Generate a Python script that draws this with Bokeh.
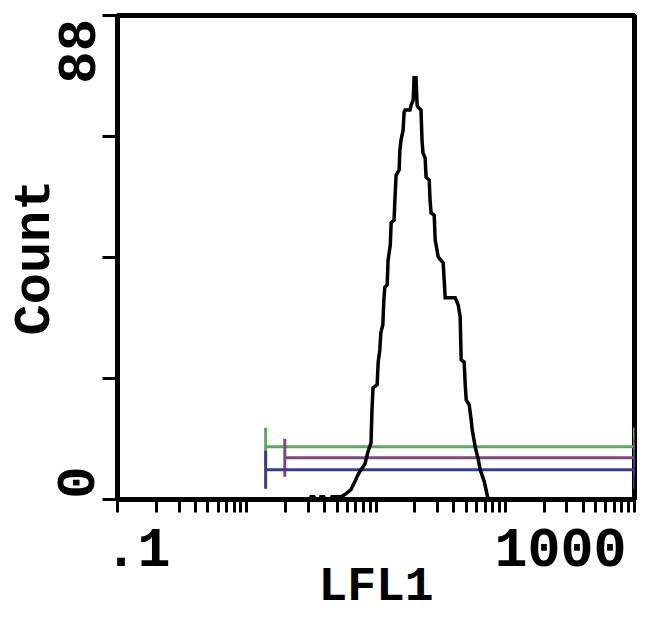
import math
from bokeh.plotting import figure
from bokeh.models import Range1d, FixedTicker, LogAxis, LinearAxis
from bokeh.embed import file_html
from bokeh.resources import INLINE

# Histogram outline (LFL1 value, count)
hist_lfl1 = [2.49, 3.08, 3.14, 3.30, 3.37, 3.68, 3.74, 3.94, 4.02, 4.48, 4.56, 5.35,
             5.75, 6.40, 6.88, 7.25, 7.65, 8.22, 8.67, 9.15, 9.31, 9.48, 10.2, 10.4,
             10.7, 10.9, 11.3, 11.5, 11.7, 12.2, 12.4, 12.9, 13.1, 13.8, 14.0, 14.3,
             15.1, 15.3, 15.6, 16.2, 16.5, 16.8, 18.3, 18.7, 19.4, 19.7, 20.4, 20.8,
             21.2, 22.3, 22.7, 23.1, 24.0, 24.4, 25.8, 26.2, 26.7, 28.2, 28.7, 30.3,
             33.1, 33.7, 34.3, 41.0, 43.2, 44.8, 45.6, 48.1, 49.0, 49.9, 52.6, 54.5,
             55.5, 58.5, 61.8, 64.0, 68.7, 73.8]
hist_count = [0, 0, 0.5, 0.5, 0, 0, 0.5, 0.5, 0, 0, 0.5, 0.5,
              0.9, 1.8, 3.3, 4.5, 5.4, 6.5, 8.7, 10.3, 16.3, 20.3, 20.9, 25.0,
              27.2, 30.3, 31.8, 36.3, 38.6, 39.0, 43.5, 46.3, 50.3, 50.8, 54.4, 59.0,
              59.9, 63.5, 65.3, 67.1, 70.4, 70.8, 70.8, 71.7, 72.6, 76.7, 76.7, 71.7,
              71.3, 70.8, 65.3, 63.0, 62.1, 58.6, 58.1, 54.4, 52.1, 51.7, 47.2, 44.1,
              43.0, 39.9, 36.7, 36.7, 35.4, 33.2, 25.4, 25.0, 20.9, 18.1, 17.2, 14.5,
              12.7, 9.6, 7.3, 5.4, 3.3, 0]

# Gate markers
gate_names = ["green", "purple", "blue"]
gate_start = [1.40, 1.97, 1.40]
gate_end = [1000, 1000, 1000]
gate_level = [9.6, 7.6, 5.4]
gate_colors = ["#5fa85f", "#7a4a7c", "#3c3c8c"]

x_major = [0.1, 1, 10, 100, 1000]
x_minor = [0.2, 0.3, 0.4, 0.5, 0.6, 0.7, 0.8, 0.9,
           2, 3, 4, 5, 6, 7, 8, 9,
           20, 30, 40, 50, 60, 70, 80, 90,
           200, 300, 400, 500, 600, 700, 800, 900]
y_ticks = [0, 22, 44, 66, 88]
x_tick_labels = [".1", "1000"]
x_label_anchor = [0.143, 267.6]     # labels sit inside the axis ends
y_tick_labels = ["0", "88"]
y_label_anchor = [3.1, 81.5]
x_title = "LFL1"
y_title = "Count"

FONT = "Liberation Mono"

p = figure(width=640, height=616, x_axis_type="log",
           x_range=Range1d(0.1, 1000), y_range=Range1d(0, 88),
           output_backend="svg", toolbar_location=None,
           min_border_left=117, min_border_top=15, min_border_right=6,
           min_border_bottom=116)
p.grid.visible = False
p.background_fill_color = "white"
p.border_fill_color = "white"
p.outline_line_color = "black"
p.outline_line_width = 5

for ax in (p.xaxis[0], p.yaxis[0]):
    ax.axis_line_width = 5
    ax.axis_line_color = "black"
    ax.major_tick_line_width = 3
    ax.minor_tick_line_width = 3
    ax.major_tick_line_color = "black"
    ax.minor_tick_line_color = "black"
    ax.major_tick_in = 0
    ax.minor_tick_in = 0
    ax.major_label_text_font_size = "2px"
    ax.major_label_text_color = None
    ax.major_label_standoff = 0

p.xaxis.ticker = FixedTicker(ticks=x_major, minor_ticks=x_minor)
p.xaxis.major_tick_out = 13
p.xaxis.minor_tick_out = 13
p.yaxis.ticker = FixedTicker(ticks=y_ticks)
p.yaxis.major_tick_out = 15
p.yaxis.minor_tick_line_color = None

text_style = dict(major_label_text_font=FONT, major_label_text_font_style="bold",
                  major_label_text_color="black",
                  axis_label_text_font=FONT, axis_label_text_font_style="bold",
                  axis_label_text_color="black",
                  axis_line_color=None, major_tick_line_color=None,
                  minor_tick_line_color=None, major_tick_out=0, major_tick_in=0,
                  minor_tick_out=0, minor_tick_in=0)

xb = LogAxis(ticker=FixedTicker(ticks=x_label_anchor),
             major_label_overrides=dict(zip(x_label_anchor, x_tick_labels)),
             major_label_text_font_size="55px",
             axis_label=x_title, axis_label_text_font_size="48px",
             major_label_standoff=16, axis_label_standoff=-9, **text_style)
p.add_layout(xb, "below")

yb = LinearAxis(ticker=FixedTicker(ticks=y_label_anchor),
                major_label_overrides=dict(zip(y_label_anchor, y_tick_labels)),
                major_label_orientation="vertical",
                major_label_text_font_size="54px",
                axis_label=y_title, axis_label_text_font_size="52px",
                major_label_standoff=8, axis_label_standoff=-9, **text_style)
p.add_layout(yb, "left")

# gates
for s, e, lv, c in zip(gate_start, gate_end, gate_level, gate_colors):
    p.line([s, e], [lv, lv], line_color=c, line_width=3)
    p.scatter([s, e], [lv, lv], marker="dash", angle=math.pi / 2, size=38,
              line_color=c, line_width=3)

# histogram
p.line(hist_lfl1, hist_count, line_color="black", line_width=3.5, line_join="miter")

open("out.html", "w").write(file_html(p, INLINE))
